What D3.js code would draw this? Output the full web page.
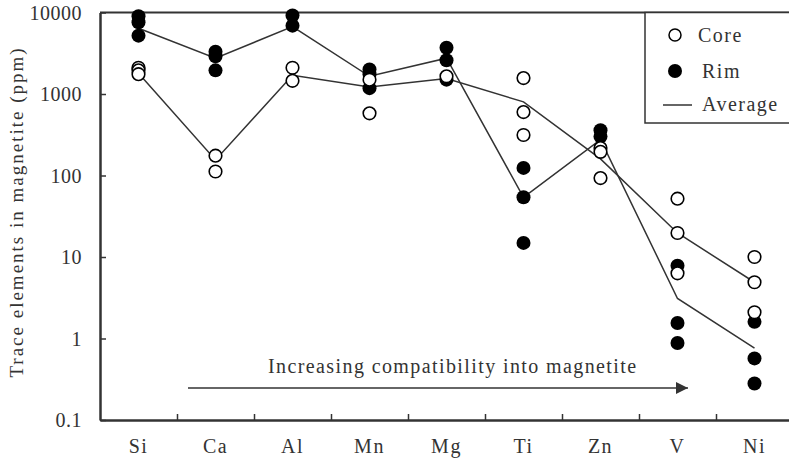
<!DOCTYPE html>
<html>
  <head>
    <meta http-equiv="Content-Type" content="text/html;charset=utf-8">
    <title>Trace elements in magnetite</title>
    <script type="text/javascript" src="https://d3js.org/d3.v7.min.js"></script>
    <style>
      html, body {
        margin: 0;
        padding: 0;
        background: #fff;
      }
      text {
        font-family: "Liberation Serif", "Times New Roman", serif;
        fill: #333;
      }
      .avg {
        fill: none;
        stroke: #333;
        stroke-width: 1.5px;
      }
    </style>
  </head>
  <body>
<script type="text/javascript">

// values
var elements = ["Si", "Ca", "Al", "Mn", "Mg", "Ti", "Zn", "V", "Ni"];
var coreValues = [
  [2100, 1950, 1750], [175, 112], [2100, 1450], [1500, 580], [1650],
  [1570, 600, 314], [217, 195, 93], [52, 19.7, 6.3], [10, 4.9, 2.1]
];
var rimValues = [
  [9000, 7600, 5200], [3300, 2900, 1950], [9200, 6900], [2000, 1750, 1180],
  [3700, 2600, 1500], [124, 54, 14.9], [360, 300], [7.8, 1.55, 0.88], [1.6, 0.57, 0.28]
];
var coreAverage = [1800, 155, 1700, 1220, 1550, 800, 160, 19.7, 4.9];
var rimAverage = [6400, 2750, 6700, 1650, 2750, 54, 275, 3.1, 0.76];
var yTicks = [0.1, 1, 10, 100, 1000, 10000];
var legendItems = ["Core", "Rim", "Average"];

var W = 789, H = 459;
var plotLeft = 100, plotTop = 12.5, plotBottom = 420, plotRight = 793;

var svg = d3.select("body").append("svg")
  .attr("width", W).attr("height", H);

var x = d3.scaleBand().domain(elements).range([plotLeft, plotRight]).padding(0);
var y = d3.scaleLog().domain([0.1, 10000]).range([plotBottom, plotTop]);
var cx = function(el) { return x(el) + x.bandwidth() / 2; };

// average lines
var line = d3.line()
  .x(function(d, i) { return cx(elements[i]); })
  .y(function(d) { return y(d); });

svg.append("path").attr("class", "avg").attr("d", line(coreAverage));
svg.append("path").attr("class", "avg").attr("d", line(rimAverage));

// frame: top border
svg.append("line")
  .attr("x1", plotLeft).attr("x2", W)
  .attr("y1", plotTop).attr("y2", plotTop)
  .attr("stroke", "#333").attr("stroke-width", 2);

// y axis with inward ticks
var yAxis = svg.append("g")
  .attr("transform", "translate(" + plotLeft + ",0)")
  .call(d3.axisRight(y).tickValues(yTicks).tickSize(6).tickSizeOuter(0).tickFormat(""));
yAxis.select(".domain").attr("stroke", "#333").attr("stroke-width", 2.5);
yAxis.selectAll(".tick line").attr("stroke", "#333").attr("stroke-width", 1.5);

svg.selectAll(".ylab").data(yTicks).enter().append("text")
  .attr("class", "ylab")
  .attr("x", 82)
  .attr("y", function(d) { return y(d); })
  .attr("dy", "0.35em")
  .attr("text-anchor", "end")
  .style("font-size", "20px")
  .style("letter-spacing", "0.5px")
  .text(function(d) { return String(d); });

// x axis, ticks between categories
var xAxis = svg.append("g")
  .attr("transform", "translate(0," + plotBottom + ")")
  .call(d3.axisTop(d3.scaleLinear().domain([plotLeft, plotRight]).range([plotLeft, plotRight]))
    .tickValues(elements.slice(1).map(function(e) { return x(e); }))
    .tickSize(6).tickSizeOuter(0).tickFormat(""));
xAxis.select(".domain").attr("stroke", "#333").attr("stroke-width", 2.5);
xAxis.selectAll(".tick line").attr("stroke", "#333").attr("stroke-width", 1.5);

svg.selectAll(".xlab").data(elements).enter().append("text")
  .attr("class", "xlab")
  .attr("x", function(d) { return cx(d); })
  .attr("y", 453)
  .attr("text-anchor", "middle")
  .style("font-size", "20px")
  .style("letter-spacing", "1.5px")
  .text(function(d) { return d; });

// y title
svg.append("text")
  .attr("transform", "translate(23,212) rotate(-90)")
  .attr("text-anchor", "middle")
  .style("font-size", "19px")
  .style("letter-spacing", "2px")
  .text("Trace elements in magnetite (ppm)");

// arrow + caption
svg.append("defs").append("marker")
  .attr("id", "head").attr("viewBox", "0 0 10 10")
  .attr("refX", 10).attr("refY", 5)
  .attr("markerWidth", 16).attr("markerHeight", 12)
  .attr("markerUnits", "userSpaceOnUse")
  .attr("orient", "auto")
  .append("path").attr("d", "M0,0L10,5L0,10Z").attr("fill", "#333");

svg.append("line")
  .attr("x1", 188).attr("x2", 688)
  .attr("y1", 388).attr("y2", 388)
  .attr("stroke", "#333").attr("stroke-width", 1.5)
  .attr("marker-end", "url(#head)");

svg.append("text")
  .attr("x", 268).attr("y", 373)
  .style("font-size", "20px")
  .style("letter-spacing", "1.4px")
  .text("Increasing compatibility into magnetite");

// points
var rimPts = [], corePts = [];
elements.forEach(function(el, i) {
  rimValues[i].forEach(function(v) { rimPts.push({el: el, v: v}); });
  coreValues[i].forEach(function(v) { corePts.push({el: el, v: v}); });
});

svg.selectAll(".rim").data(rimPts).enter().append("circle")
  .attr("class", "rim")
  .attr("cx", function(d) { return cx(d.el); })
  .attr("cy", function(d) { return y(d.v); })
  .attr("r", 7)
  .attr("fill", "#000");

svg.selectAll(".core").data(corePts).enter().append("circle")
  .attr("class", "core")
  .attr("cx", function(d) { return cx(d.el); })
  .attr("cy", function(d) { return y(d.v); })
  .attr("r", 6.3)
  .attr("fill", "#fff")
  .attr("stroke", "#000")
  .attr("stroke-width", 1.6);

// legend
var lg = svg.append("g");
lg.append("rect")
  .attr("x", 645).attr("y", plotTop).attr("width", 160).attr("height", 110.5)
  .attr("fill", "#fff").attr("stroke", "#333").attr("stroke-width", 1.5);
lg.append("circle").attr("cx", 675).attr("cy", 35).attr("r", 6)
  .attr("fill", "#fff").attr("stroke", "#000").attr("stroke-width", 1.5);
lg.append("circle").attr("cx", 675).attr("cy", 71).attr("r", 7).attr("fill", "#000");
lg.append("line").attr("x1", 663).attr("x2", 692).attr("y1", 105).attr("y2", 105)
  .attr("stroke", "#333").attr("stroke-width", 1.5);
lg.selectAll("text").data(legendItems).enter().append("text")
  .attr("x", function(d, i) { return i === 0 ? 698 : 702; })
  .attr("y", function(d, i) { return [42, 78, 111][i]; })
  .style("font-size", "20px")
  .style("letter-spacing", "1.5px")
  .text(function(d) { return d; });

</script>
  </body>
</html>
